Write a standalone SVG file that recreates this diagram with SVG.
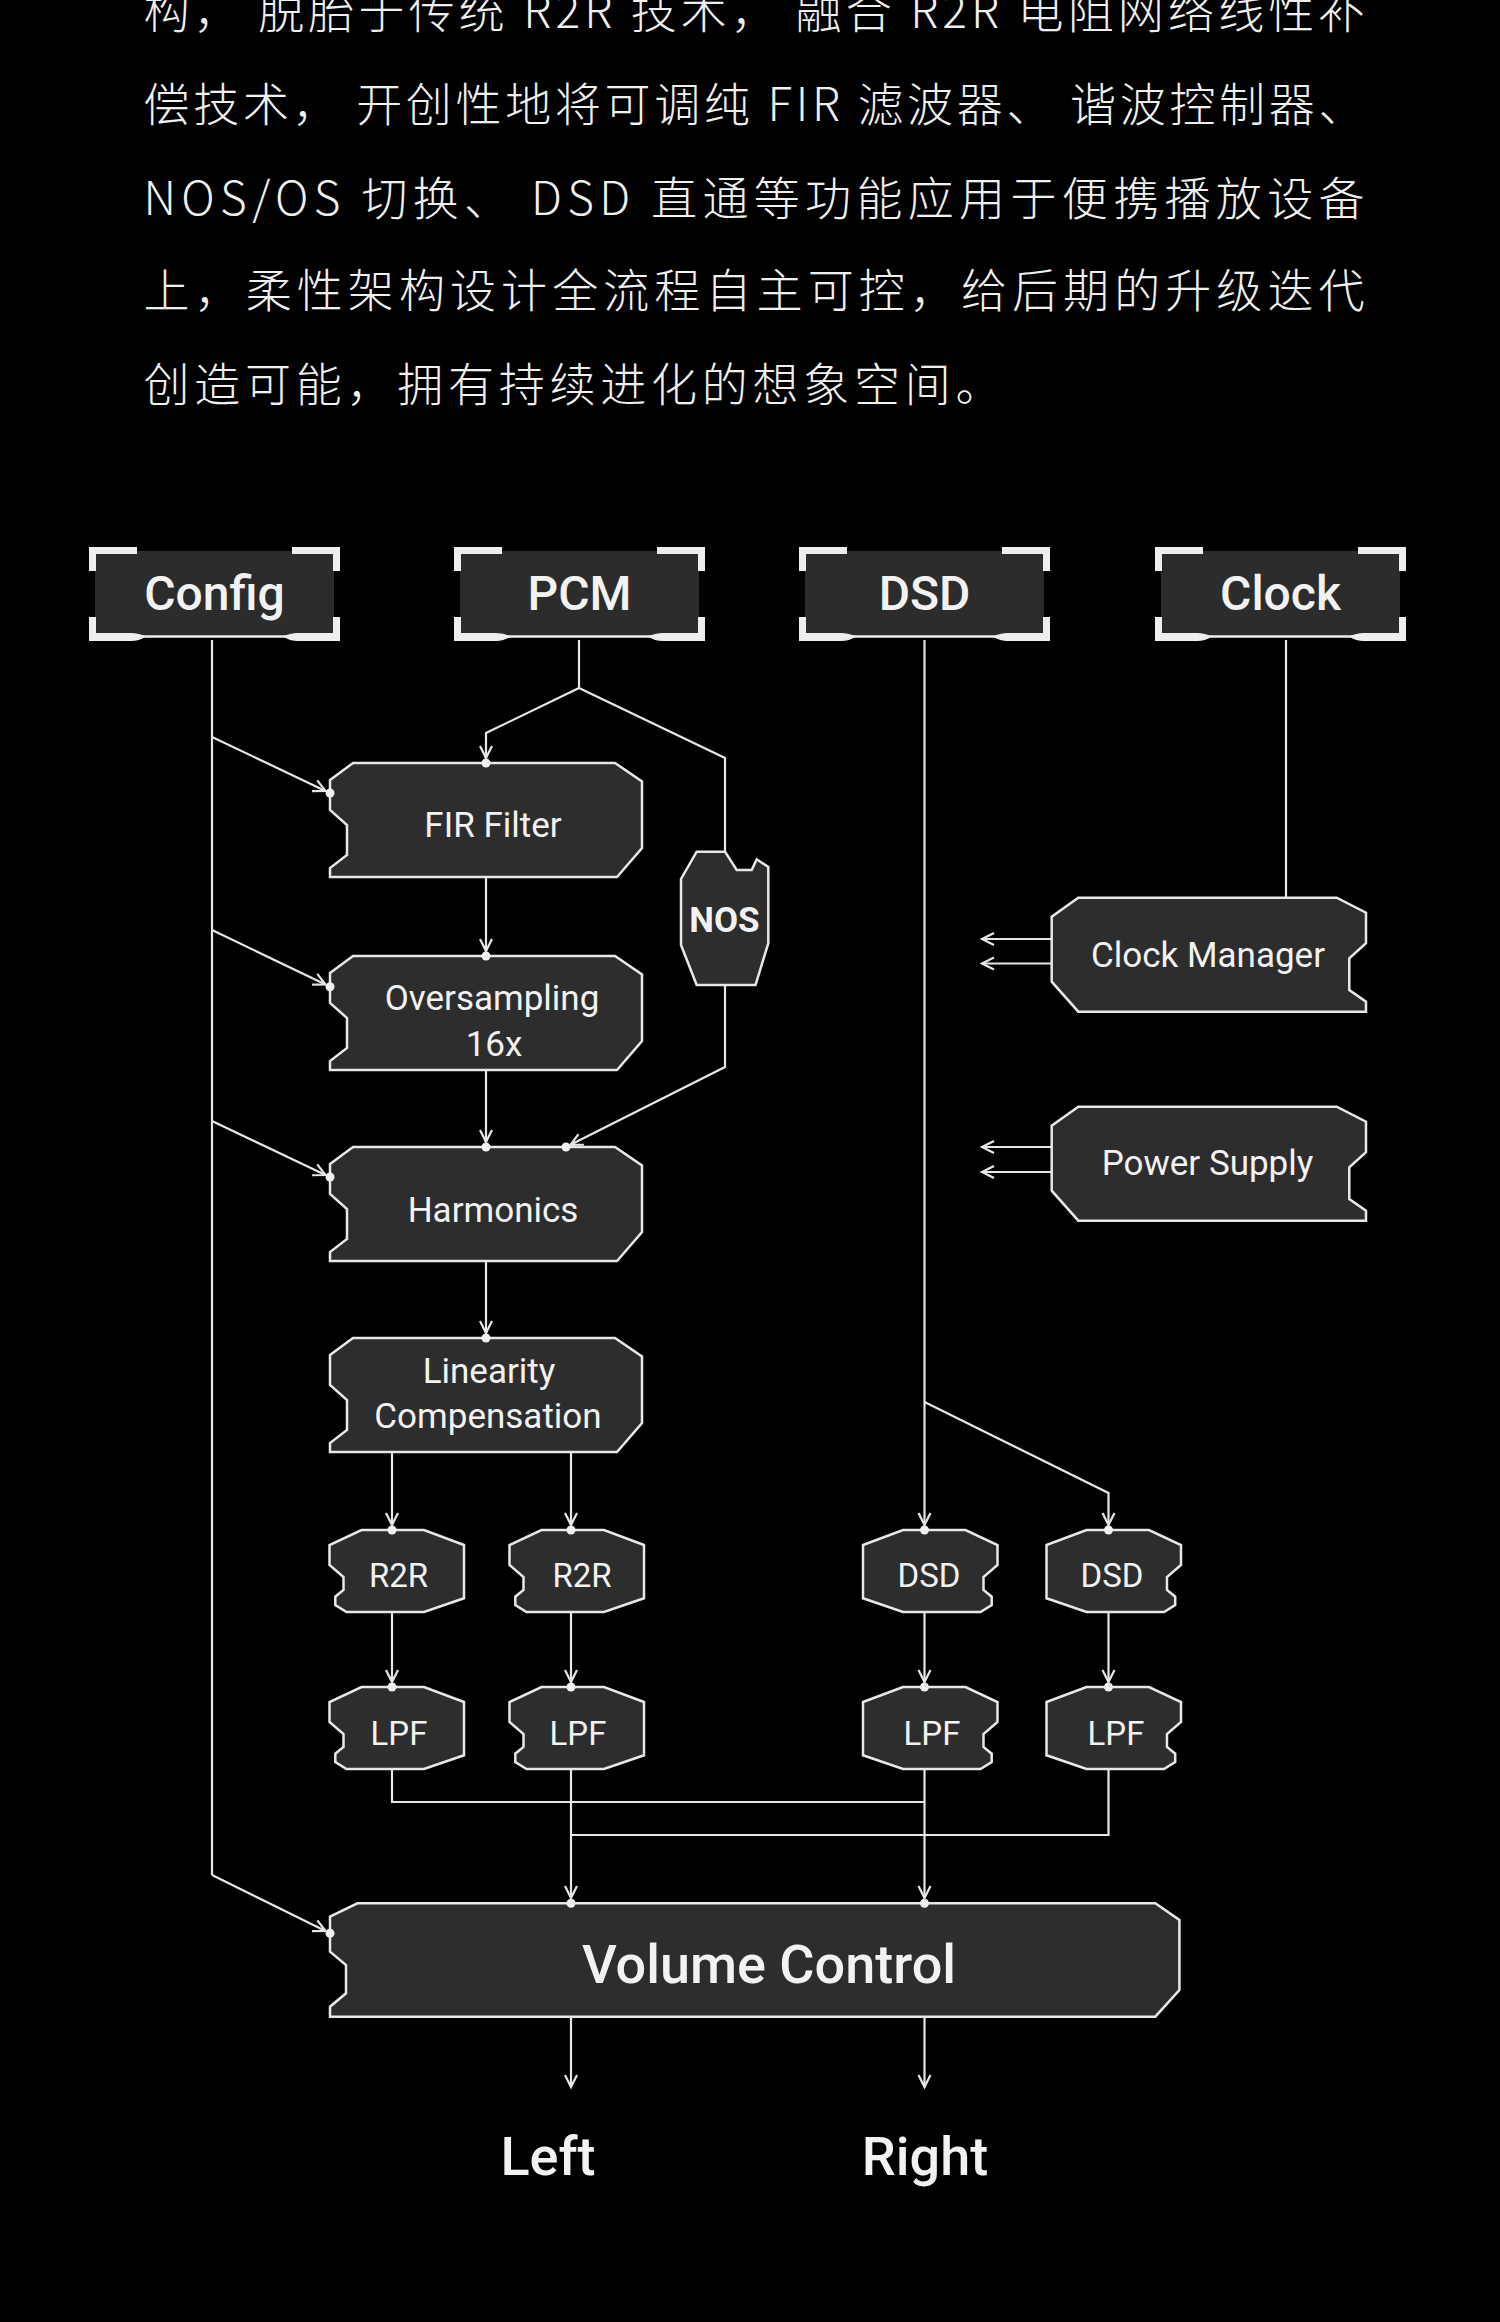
<svg xmlns="http://www.w3.org/2000/svg" xmlns:xlink="http://www.w3.org/1999/xlink" width="1500" height="2322" viewBox="0 0 1500 2322">
<defs>
<style>
.para{font-family:"Noto Sans CJK SC","Noto Sans",sans-serif;font-weight:300;font-size:46px;fill:#f0f0f0}
.node{fill:#2d2d2d;stroke:#e8e8e8;stroke-width:2.5;stroke-linejoin:miter}
.lbl{font-family:Roboto,"Open Sans",sans-serif;fill:#f2f2f2;text-anchor:middle}
.m{font-size:35px}
.s{font-size:33px}
.h{font-size:48px;font-weight:500}
.nos{font-size:35px;font-weight:700}
.big{font-size:54px;font-weight:500}
.wire{fill:none;stroke:#e6e6e6;stroke-width:2.2}
.arr{marker-end:url(#ah)}
.dot{fill:#f0f0f0}
</style>
<marker id="ah" markerUnits="userSpaceOnUse" markerWidth="16" markerHeight="16" refX="13" refY="7" orient="auto" overflow="visible">
<path d="M1,1 L13,7 L1,13" fill="none" stroke="#e6e6e6" stroke-width="2.2"/>
</marker>
<path id="bigShape" d="M0,17 L23,0 L285,0 L312,18.5 L312,85 L287,114 L0,114 L0,105 L17,92 L17,62 L0,47 Z"/>
<path id="rShape" d="M134.5,15 L94.5,0 L32,0 L0,15 L0,35 L14,47 L14,60 L5.8,66.7 L5.8,75 L17,82 L94.5,82 L134.5,68.3 Z"/>
<path id="dShape" d="M0,15 L40,0 L102.5,0 L134.5,15 L134.5,35 L120.5,47 L120.5,60 L128.7,66.7 L128.7,75 L117.5,82 L40,82 L0,68.3 Z"/>
<path id="sideShape" d="M26.6,0 L285,0 L314.3,15 L314.3,45.6 L297.6,60.6 L297.6,92.3 L314.3,104 L314.3,114 L26.6,114 L0,84 L0,19 Z"/>
<g id="hdr">
<rect x="6" y="4" width="239" height="86" fill="#2c2c2c"/>
<line x1="54" y1="89.5" x2="197" y2="89.5" stroke="#eeeeee" stroke-width="2.5"/>
<path d="M0,0 H48 V7 H7 V24 H0 Z" fill="#eeeeee"/>
<path d="M251,0 H203 V7 H244 V24 H251 Z" fill="#eeeeee"/>
<path d="M0,70 H7 V86 H42 Q50,86 57,89.5 Q50,94 42,94 H0 Z" fill="#eeeeee"/>
<path d="M251,70 H244 V86 H209 Q201,86 194,89.5 Q201,94 209,94 H251 Z" fill="#eeeeee"/>
</g>
</defs>
<rect width="1500" height="2322" fill="#000000"/>

<g id="paragraph" class="para">
<text x="143.5" y="28" textLength="1221" lengthAdjust="spacing">构， 脱胎于传统 R2R 技术， 融合 R2R 电阻网络线性补</text>
<text x="143.5" y="120.5" textLength="1221" lengthAdjust="spacing">偿技术， 开创性地将可调纯 FIR 滤波器、 谐波控制器、</text>
<text x="143.5" y="215" textLength="1221" lengthAdjust="spacing">NOS/OS 切换、 DSD 直通等功能应用于便携播放设备</text>
<text x="143.5" y="307" textLength="1221" lengthAdjust="spacing">上，柔性架构设计全流程自主可控，给后期的升级迭代</text>
<text x="143.5" y="401" textLength="858" lengthAdjust="spacing">创造可能，拥有持续进化的想象空间。</text>
</g>

<g id="connectors">
<path class="wire" d="M212,640 V1875"/>
<path class="wire arr" d="M212,1875 L325.5,1931"/>
<path class="wire arr" d="M212,737 L325.5,790.9"/>
<path class="wire arr" d="M212,930 L325.5,984.5"/>
<path class="wire arr" d="M212,1121 L325.5,1175"/>
<path class="wire arr" d="M579,640 V688 L486,733 V758"/>
<path class="wire" d="M579,688 L725,758 V852"/>
<path class="wire arr" d="M725,985 V1067 L570.5,1144.8"/>
<path class="wire arr" d="M486,877 V951"/>
<path class="wire arr" d="M486,1070 V1142"/>
<path class="wire arr" d="M486,1261 V1333"/>
<path class="wire arr" d="M392,1452 V1525"/>
<path class="wire arr" d="M571,1452 V1525"/>
<path class="wire arr" d="M924.5,640 V1525"/>
<path class="wire arr" d="M924.5,1402 L1108.5,1493 V1525"/>
<path class="wire arr" d="M392,1612 V1682"/>
<path class="wire arr" d="M571,1612 V1682"/>
<path class="wire arr" d="M924.5,1612 V1682"/>
<path class="wire arr" d="M1108.5,1612 V1682"/>
<path class="wire" d="M392,1769 V1802 H924.5"/>
<path class="wire" d="M1108.5,1769 V1835 H571"/>
<path class="wire arr" d="M571,1769 V1898"/>
<path class="wire arr" d="M924.5,1769 V1898"/>
<path class="wire arr" d="M571,2017 V2087"/>
<path class="wire arr" d="M924.5,2017 V2087"/>
<path class="wire" d="M1286,640 V898"/>
<path class="wire arr" d="M1051.7,939 H982"/>
<path class="wire arr" d="M1051.7,963.5 H982"/>
<path class="wire arr" d="M1051.7,1147 H982"/>
<path class="wire arr" d="M1051.7,1172 H982"/>
</g>

<g id="node-config"><use href="#hdr" xlink:href="#hdr" transform="translate(89,547)"/><text class="lbl h" x="214.5" y="610">Config</text></g>
<g id="node-pcm"><use href="#hdr" xlink:href="#hdr" transform="translate(454,547)"/><text class="lbl h" x="579.5" y="610">PCM</text></g>
<g id="node-dsd"><use href="#hdr" xlink:href="#hdr" transform="translate(799,547)"/><text class="lbl h" x="924.5" y="610">DSD</text></g>
<g id="node-clock"><use href="#hdr" xlink:href="#hdr" transform="translate(1155,547)"/><text class="lbl h" x="1280.5" y="610">Clock</text></g>

<g id="node-fir"><use href="#bigShape" xlink:href="#bigShape" class="node" transform="translate(330,763)"/><circle class="dot" cx="486" cy="763" r="4.5"/><circle class="dot" cx="330" cy="793" r="4.5"/><text class="lbl m" x="493" y="836.7">FIR Filter</text></g>
<g id="node-oversampling"><use href="#bigShape" xlink:href="#bigShape" class="node" transform="translate(330,956)"/><circle class="dot" cx="486" cy="956" r="4.5"/><circle class="dot" cx="330" cy="986.7" r="4.5"/><text class="lbl m" x="492" y="1010">Oversampling</text><text class="lbl m" x="494" y="1056">16x</text></g>
<g id="node-harmonics"><use href="#bigShape" xlink:href="#bigShape" class="node" transform="translate(330,1147)"/><circle class="dot" cx="486" cy="1147" r="4.5"/><circle class="dot" cx="566" cy="1147" r="4.5"/><circle class="dot" cx="330" cy="1177" r="4.5"/><text class="lbl m" x="493" y="1221.7">Harmonics</text></g>
<g id="node-linearity"><use href="#bigShape" xlink:href="#bigShape" class="node" transform="translate(330,1338)"/><circle class="dot" cx="486" cy="1338" r="4.5"/><text class="lbl m" x="489" y="1383">Linearity</text><text class="lbl m" x="488" y="1428">Compensation</text></g>
<g id="node-nos"><path class="node" d="M696.7,851.7 L725,851.7 L736.7,870 L751.7,870 L756.7,859.3 L768.3,867 L768.3,943.3 L755.5,985 L696.7,985 L681,945 L681,879 Z"/><text class="lbl nos" x="724.5" y="931.5">NOS</text></g>

<g id="node-clock-manager"><use href="#sideShape" xlink:href="#sideShape" class="node" transform="translate(1051.7,897.7)"/><text class="lbl m" x="1208" y="966.7">Clock Manager</text></g>
<g id="node-power-supply"><use href="#sideShape" xlink:href="#sideShape" class="node" transform="translate(1051.7,1106.7)"/><text class="lbl m" x="1207.5" y="1175">Power Supply</text></g>

<g id="node-r2r-1"><use href="#rShape" xlink:href="#rShape" class="node" transform="translate(329.5,1530)"/><circle class="dot" cx="392" cy="1530" r="4.5"/><text class="lbl s" x="398.5" y="1587">R2R</text></g>
<g id="node-r2r-2"><use href="#rShape" xlink:href="#rShape" class="node" transform="translate(509.5,1530)"/><circle class="dot" cx="571" cy="1530" r="4.5"/><text class="lbl s" x="582" y="1587">R2R</text></g>
<g id="node-dsd-1"><use href="#dShape" xlink:href="#dShape" class="node" transform="translate(863,1530)"/><circle class="dot" cx="924.5" cy="1530" r="4.5"/><text class="lbl s" x="929" y="1587">DSD</text></g>
<g id="node-dsd-2"><use href="#dShape" xlink:href="#dShape" class="node" transform="translate(1046.5,1530)"/><circle class="dot" cx="1108.5" cy="1530" r="4.5"/><text class="lbl s" x="1112" y="1587">DSD</text></g>

<g id="node-lpf-1"><use href="#rShape" xlink:href="#rShape" class="node" transform="translate(329.5,1687)"/><circle class="dot" cx="392" cy="1687" r="4.5"/><text class="lbl s" x="399" y="1745">LPF</text></g>
<g id="node-lpf-2"><use href="#rShape" xlink:href="#rShape" class="node" transform="translate(509.5,1687)"/><circle class="dot" cx="571" cy="1687" r="4.5"/><text class="lbl s" x="578" y="1745">LPF</text></g>
<g id="node-lpf-3"><use href="#dShape" xlink:href="#dShape" class="node" transform="translate(863,1687)"/><circle class="dot" cx="924.5" cy="1687" r="4.5"/><text class="lbl s" x="932" y="1745">LPF</text></g>
<g id="node-lpf-4"><use href="#dShape" xlink:href="#dShape" class="node" transform="translate(1046.5,1687)"/><circle class="dot" cx="1108.5" cy="1687" r="4.5"/><text class="lbl s" x="1116" y="1745">LPF</text></g>

<g id="node-volume"><path class="node" d="M330,1916.7 L357.4,1903.3 L1155.3,1903.3 L1179.4,1920 L1179.4,1990 L1155.3,2016.7 L330,2016.7 L330,2006.7 L346,1993.3 L346,1965 L330,1951.7 Z"/><circle class="dot" cx="571" cy="1903.3" r="4.5"/><circle class="dot" cx="924.5" cy="1903.3" r="4.5"/><circle class="dot" cx="330" cy="1933.3" r="4.5"/><text class="lbl big" x="769" y="1983">Volume Control</text></g>

<g id="node-left"><text class="lbl big" x="548" y="2175">Left</text></g>
<g id="node-right"><text class="lbl big" x="925" y="2175">Right</text></g>
</svg>
